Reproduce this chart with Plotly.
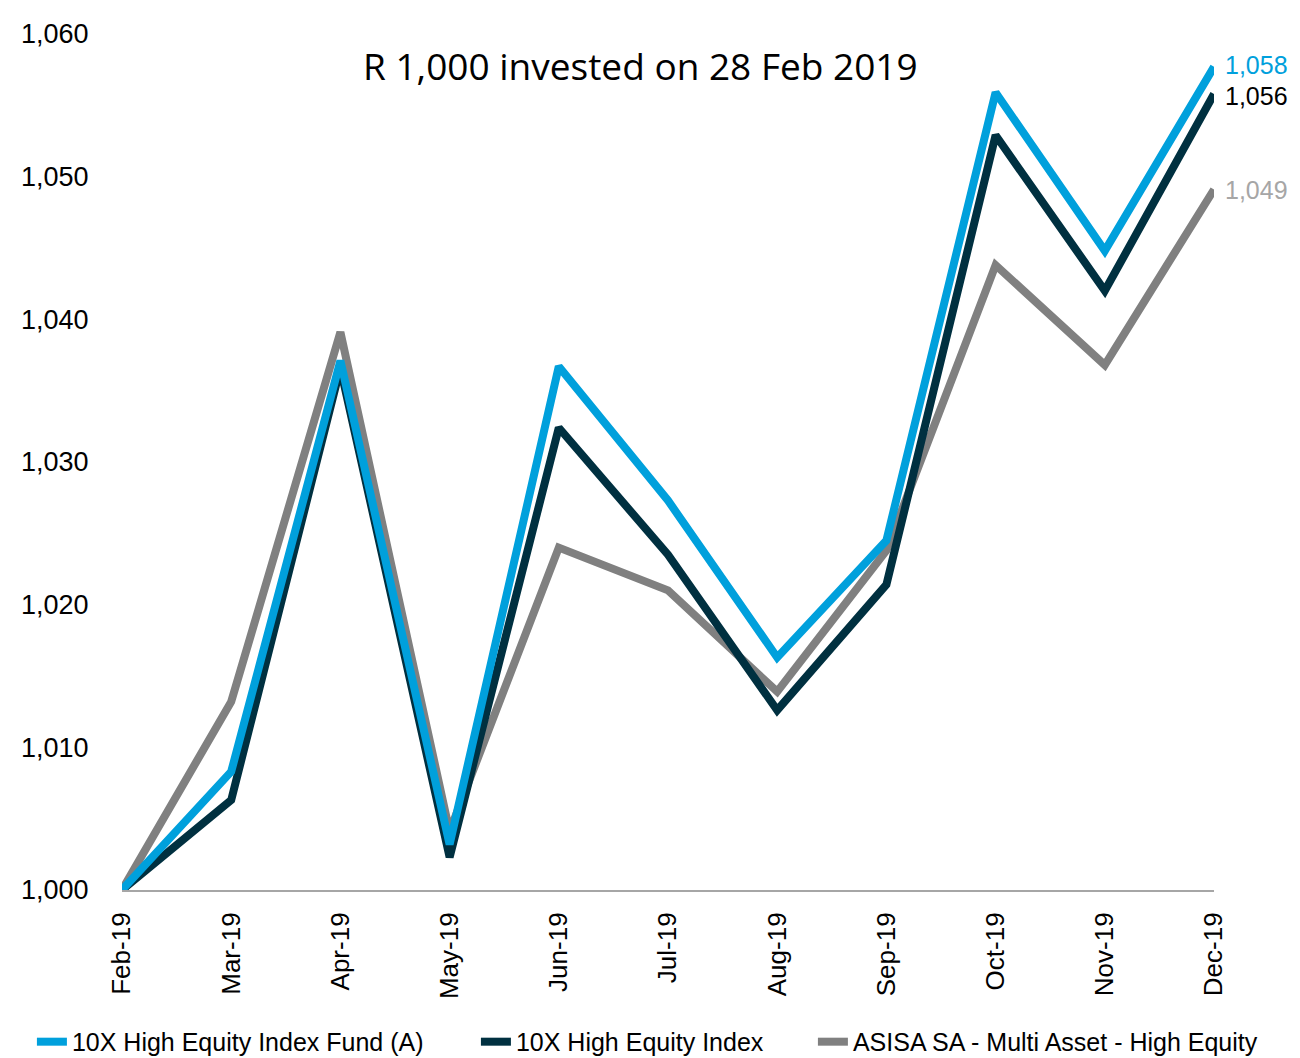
import plotly.graph_objects as go

months = ["Feb-19", "Mar-19", "Apr-19", "May-19", "Jun-19", "Jul-19",
          "Aug-19", "Sep-19", "Oct-19", "Nov-19", "Dec-19"]
fund = [1000.0, 1008.3, 1037.1, 1003.2, 1036.7, 1027.3, 1016.3, 1024.5, 1055.9, 1044.8, 1057.7]
index = [1000.0, 1006.3, 1036.6, 1002.3, 1032.4, 1023.5, 1012.6, 1021.4, 1052.9, 1042.0, 1055.8]
asisa = [1000.0, 1013.2, 1039.1, 1004.1, 1024.0, 1021.0, 1013.9, 1023.8, 1043.8, 1036.8, 1049.1]

names = ["10X High Equity Index Fund (A)", "10X High Equity Index",
         "ASISA SA - Multi Asset - High Equity"]
line_colors = ["#00a0dc", "#003040", "#808080"]
label_colors = ["#00a0dc", "#000000", "#a6a6a6"]
series = [fund, index, asisa]
legend_ids = ["legend", "legend2", "legend3"]
legend_x = [-0.0825, 0.3241, 0.6327]
label_shift = [2, -2, 0]
draw_order = [2, 1, 0]

fig = go.Figure()
for i in draw_order:
    fig.add_trace(go.Scatter(
        x=list(range(len(months))), y=series[i], mode="lines", name=names[i],
        line=dict(color=line_colors[i], width=8),
        legend=legend_ids[i],
    ))

for i in range(3):
    fig.add_annotation(
        x=len(months) - 1, y=series[i][-1], text=f"{round(series[i][-1]):,}",
        showarrow=False, xanchor="left", yanchor="middle", xshift=9,
        yshift=label_shift[i],
        font=dict(family="Liberation Sans, Arial", size=25, color=label_colors[i]),
    )

fig.add_annotation(
    x=0.475, y=0.963, xref="paper", yref="paper",
    text="R 1,000 invested on 28 Feb 2019", showarrow=False,
    xanchor="center", yanchor="middle",
    font=dict(family="Open Sans", size=37, color="#000000"),
)

legend_common = dict(orientation="h", xanchor="left", y=-0.1775, yanchor="middle",
                     font=dict(size=25, color="#000000"), bgcolor="rgba(0,0,0,0)")
fig.update_layout(
    width=1300, height=1058,
    margin=dict(l=114, r=94, t=26, b=176, autoexpand=False),
    plot_bgcolor="white", paper_bgcolor="white",
    font=dict(family="Liberation Sans, Arial", size=25, color="#000000"),
    showlegend=True,
    legend=dict(x=legend_x[0], **legend_common),
    legend2=dict(x=legend_x[1], **legend_common),
    legend3=dict(x=legend_x[2], **legend_common),
)
fig.update_xaxes(
    tickmode="array", tickvals=list(range(len(months))), ticktext=months,
    range=[0, len(months) - 1], tickangle=-90, automargin=False,
    showgrid=False, zeroline=False, showline=True, linecolor="#a6a6a6", linewidth=2,
    ticks="outside", ticklen=10, tickcolor="rgba(0,0,0,0)",
    tickfont=dict(size=26),
)
fig.update_yaxes(
    range=[1000, 1060], tickvals=[1000, 1010, 1020, 1030, 1040, 1050, 1060],
    tickformat=",d", showgrid=False, zeroline=False, showline=False, automargin=False,
    ticks="outside", ticklen=27, tickcolor="rgba(0,0,0,0)",
    tickfont=dict(size=27),
)

fig.write_html("out.html")
